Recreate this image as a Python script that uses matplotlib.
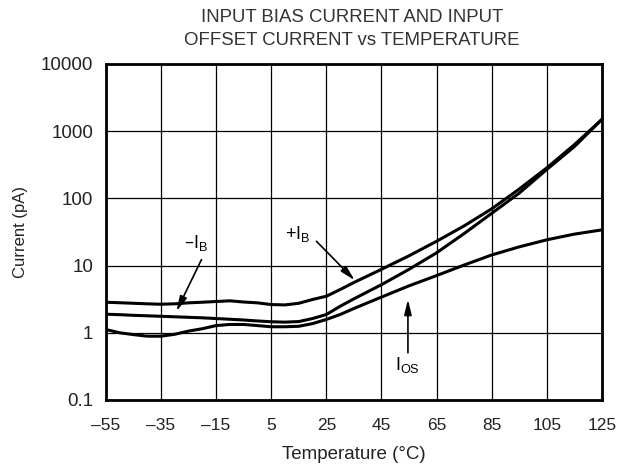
import numpy as np
import matplotlib.pyplot as plt
from matplotlib.ticker import FixedLocator, FixedFormatter, NullLocator

plt.rcParams['font.family'] = ['Liberation Sans', 'DejaVu Sans']
plt.rcParams['mathtext.default'] = 'regular'

# temperature points (deg C) and currents (pA)
temp = [-55, -50, -45, -40, -35, -30, -25, -20, -15, -10, -5, 0, 5, 10, 15, 20, 25, 30, 35,
        45, 55, 65, 75, 85, 95, 105, 115, 125]
ib_top = [2.85, 2.8, 2.75, 2.7, 2.66, 2.7, 2.79, 2.85, 2.92, 2.99, 2.87, 2.79, 2.63, 2.6,
          2.75, 3.13, 3.5, 4.4, 5.6, 8.8, 14, 23, 39, 70, 138, 285, 630, 1500]
ib_mid = [1.89, 1.86, 1.82, 1.79, 1.76, 1.73, 1.70, 1.67, 1.63, 1.59, 1.55, 1.50, 1.46, 1.44,
          1.47, 1.63, 1.87, 2.48, 3.2, 5.2, 8.8, 15.5, 30, 60, 120, 270, 590, 1500]
ios = [1.12, 1.0, 0.94, 0.89, 0.89, 0.95, 1.06, 1.15, 1.28, 1.33, 1.33, 1.28, 1.23, 1.23,
       1.25, 1.37, 1.58, 1.87, 2.3, 3.4, 5.0, 7.1, 10.2, 14.4, 19, 24.2, 29.4, 34]

xticks = [-55, -35, -15, 5, 25, 45, 65, 85, 105, 125]
xlabels = ['\u201355', '\u201335', '\u201315', '5', '25', '45', '65', '85', '105', '125']
yticks = [0.1, 1, 10, 100, 1000, 10000]
ylabels = ['0.1', '1', '10', '100', '1000', '10000']

fig = plt.figure(figsize=(6.19, 4.65), dpi=100)
ax = fig.add_axes([0.171, 0.1398, 0.8015, 0.7226])

ax.plot(temp, ib_top, color='black', lw=2.2)
ax.plot(temp, ib_mid, color='black', lw=2.2)
ax.plot(temp, ios, color='black', lw=2.2)

ax.set_yscale('log')
ax.set_xlim(-55, 125)
ax.set_ylim(0.1, 10000)
ax.xaxis.set_major_locator(FixedLocator(xticks))
ax.xaxis.set_major_formatter(FixedFormatter(xlabels))
ax.yaxis.set_major_locator(FixedLocator(yticks))
ax.yaxis.set_major_formatter(FixedFormatter(ylabels))
ax.yaxis.set_minor_locator(NullLocator())
ax.grid(True, color='black', lw=0.9)
ax.tick_params(length=0, colors='#222222')
ax.tick_params(axis='x', labelsize=12.5, pad=13)
ax.tick_params(axis='y', labelsize=13.5, pad=9)
for s in ax.spines.values():
    s.set_linewidth(2)

ax.set_xlabel('Temperature (\u00b0C)', fontsize=13.5, labelpad=9, color='#222222')
ax.set_ylabel('Current (pA)', fontsize=12, labelpad=9, color='#222222')
fig.text(0.569, 0.963, 'INPUT BIAS CURRENT AND INPUT', ha='center', va='center',
         fontsize=13.4, color='#333333')
fig.text(0.569, 0.913, 'OFFSET CURRENT vs TEMPERATURE', ha='center', va='center',
         fontsize=13.4, color='#333333')

arrow = dict(arrowstyle='-|>,head_width=0.22,head_length=0.9', color='black', lw=1.2,
             shrinkA=0, shrinkB=0)
ax.text(-22.4, 22, '\u2013I$_B$', ha='center', va='center', fontsize=13)
ax.annotate('', xy=(-29.4, 2.09), xytext=(-20.3, 12.3), arrowprops=arrow)
ax.text(14.6, 29.9, '+I$_B$', ha='center', va='center', fontsize=13)
ax.annotate('', xy=(35.3, 6.05), xytext=(21.4, 23), arrowprops=arrow)
ax.text(54.5, 0.327, 'I$_{OS}$', ha='center', va='center', fontsize=13)
ax.annotate('', xy=(54.6, 3.13), xytext=(54.6, 0.505), arrowprops=arrow)

fig.savefig('out.png', dpi=100)
